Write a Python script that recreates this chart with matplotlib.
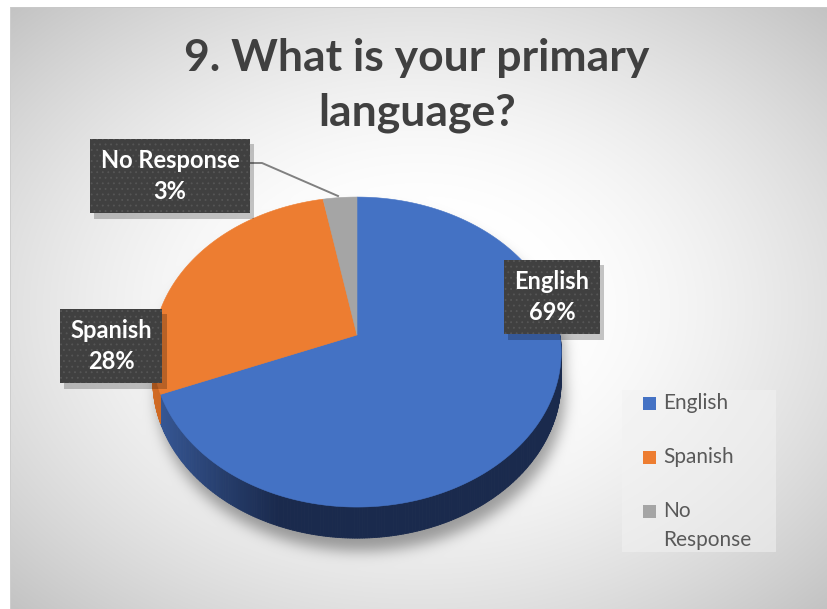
import textwrap
import numpy as np
import matplotlib
matplotlib.use("Agg")
import matplotlib.pyplot as plt
from matplotlib.patches import Polygon, Rectangle
from matplotlib.collections import PolyCollection
from matplotlib.path import Path
import matplotlib.patheffects as pe

# survey answers
categories = ["English", "Spanish", "No Response"]
shares = [69, 28, 3]
top_colors = ["#4472c4", "#ed7d31", "#a5a5a5"]
title = "9. What is your primary\nlanguage?"

W, H = 828, 609
FONT = ["Lato", "DejaVu Sans"]

# projected pie geometry (pixels)
CX, CY = 357, 335
RX, RY = 203, 155
K = 0.11          # front of the disc is nearer, so bigger
DEPTH = 28


def proj(theta_deg, drop=0.0):
    t = np.radians(theta_deg)
    c, s = np.cos(t), np.sin(t)
    f = 1 - K * s
    return CX + RX * c * f, CY - RY * s * f + drop * f


def gauss_blur(img, sigma):
    r = int(3 * sigma)
    x = np.arange(-r, r + 1)
    k = np.exp(-x ** 2 / (2 * sigma ** 2))
    k /= k.sum()
    out = np.array([np.convolve(row, k, mode="same") for row in img])
    out = np.array([np.convolve(col, k, mode="same") for col in out.T]).T
    return out


# ---- background: radial grey gradient plus a soft shadow under the pie
yy, xx = np.mgrid[0:H, 0:W] + 0.5
bx0, by0, bx1, by1 = 10, 7, W, H
gcx, gcy = (bx0 + bx1) / 2, (by0 + by1) / 2
tt = np.sqrt(((xx - gcx) / ((bx1 - bx0) / 2)) ** 2 + ((yy - gcy) / ((by1 - by0) / 2)) ** 2)
s = np.clip((tt - 0.3) / 1.11, 0, 1)
bg = 255 - 60 * s ** 1.5

th = np.linspace(0, 180, 200)
ux, uy = proj(th)
lx, ly = proj(np.linspace(180, 360, 200), DEPTH)
outline = np.column_stack([np.concatenate([ux, lx]), np.concatenate([uy, ly])])
mask = Path(outline).contains_points(np.column_stack([(xx - 4).ravel(), (yy - 13).ravel()]))
mask = gauss_blur(mask.reshape(H, W).astype(float), 7)
bg = bg * (1 - 0.36 * mask)

bg[:by0, :] = 255
bg[:, :bx0] = 255
bg[by0, bx0:] = 200
bg[by0:, bx0] = 205
img = np.repeat(bg[:, :, None] / 255.0, 3, axis=2)

fig = plt.figure(figsize=(W / 100, H / 100), dpi=100)
ax = fig.add_axes([0, 0, 1, 1])
ax.imshow(img, extent=(0, W, H, 0), interpolation="bilinear", zorder=0)
ax.set_xlim(0, W)
ax.set_ylim(H, 0)
ax.axis("off")

# ---- wedges
fracs = np.array(shares, dtype=float) / sum(shares)
bounds = 90 - 360 * np.concatenate([[0], np.cumsum(fracs)])
side_light = {"English": np.array([0x3a, 0x5d, 0x9e]) / 255, "Spanish": np.array([0xd4, 0x6c, 0x25]) / 255,
              "No Response": np.array([0x8a, 0x8a, 0x8a]) / 255}
side_dark = {"English": np.array([0x1a, 0x2a, 0x4d]) / 255, "Spanish": np.array([0x9a, 0x4c, 0x18]) / 255,
             "No Response": np.array([0x60, 0x60, 0x60]) / 255}

for name, a0, a1, col in zip(categories, bounds[:-1], bounds[1:], top_colors):
    # side wall, only the front half (sin < 0) can be seen
    ang = np.linspace(a1, a0, 400)
    quads, cols = [], []
    for p, q in zip(ang[:-1], ang[1:]):
        mid = np.mod((p + q) / 2, 360)
        if mid < 180:
            continue
        x0, y0 = proj(p)
        x1, y1 = proj(q)
        x2, y2 = proj(q, DEPTH)
        x3, y3 = proj(p, DEPTH)
        quads.append([(x0, y0), (x1, y1), (x2, y2), (x3, y3)])
        w = np.clip((-np.cos(np.radians(mid)) - 0.35) / 0.65, 0, 1)
        cols.append(side_dark[name] + (side_light[name] - side_dark[name]) * w)
    if quads:
        ax.add_collection(PolyCollection(quads, facecolors=cols, edgecolors=cols, linewidths=0.6, zorder=2))
    px, py = proj(ang)
    pts = np.column_stack([np.concatenate([[CX], px]), np.concatenate([[CY], py])])
    ax.add_patch(Polygon(pts, closed=True, facecolor=col, edgecolor=col, linewidth=0.4, zorder=3))

# ---- data labels
plt.rcParams["hatch.linewidth"] = 0.6
label_pos = {"English": (552, 297), "Spanish": (111, 346), "No Response": (170, 176)}
box_shadow = [pe.SimplePatchShadow(offset=(3, -4), shadow_rgbFace="black", alpha=0.22, hatch=None),
              pe.Normal()]
for name, val in zip(categories, shares):
    x, y = label_pos[name]
    t = ax.text(x, y, f"{name}\n{val}%", ha="center", va="center", fontsize=17, fontweight="bold",
                family=FONT, color="white", linespacing=1.4, zorder=5,
                bbox=dict(boxstyle="square,pad=0.45", fc="#404040", ec="#565656", lw=0, hatch="..."))
    t.get_bbox_patch().set_path_effects(box_shadow)

# leader line for the thin slice
ax.plot([251, 262, 338], [163, 163, 196], color="#808080", lw=1.4, zorder=3.5)

# ---- title
ax.text(417, 38, title, ha="center", va="top", fontsize=32, fontweight="bold",
        family=FONT, color="#404040", linespacing=1.45, zorder=6)

# ---- legend
ax.add_patch(Rectangle((622, 390), 154, 162, facecolor="#f2f2f2", alpha=0.55, lw=0, zorder=4))
for i, (name, col) in enumerate(zip(categories, top_colors)):
    ey = 403 + i * 54
    ax.add_patch(Rectangle((643, ey - 6.5), 13, 13, facecolor=col, lw=0, zorder=5))
    for j, line in enumerate(textwrap.wrap(name, 9)):
        ax.text(663, ey + j * 29, line, ha="left", va="center", fontsize=15, family=FONT,
                color="#595959", zorder=5)

fig.savefig("out.png", dpi=100)
